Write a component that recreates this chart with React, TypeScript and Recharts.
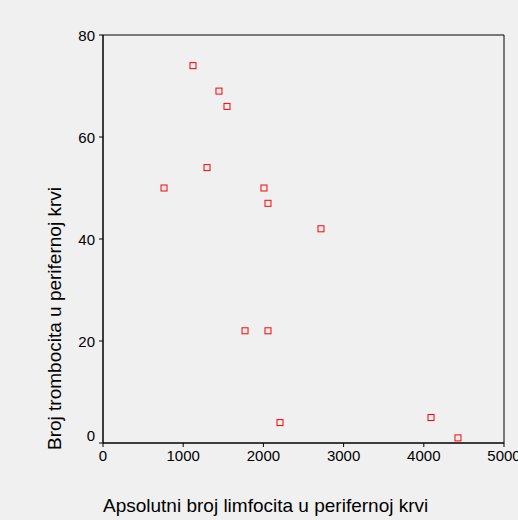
import React from 'react';
import {
  ScatterChart,
  Scatter,
  XAxis,
  YAxis,
  ReferenceArea,
} from 'recharts';

// Absolute lymphocyte count vs. platelet count
const lymphocytes = [1122, 1446, 1546, 1297, 761, 2007, 2057, 2718, 1771, 2057, 2207, 4090, 4426];
const platelets = [74, 69, 66, 54, 50, 50, 47, 42, 22, 22, 4, 5, 1];
const xTicks = [0, 1000, 2000, 3000, 4000, 5000];
const yTicks = [0, 20, 40, 60, 80];

const points = lymphocytes.map((x, i) => ({ x, y: platelets[i] }));

const FONT = '"Liberation Sans", Arial, Helvetica, sans-serif';

function Square(props: any) {
  const { cx, cy } = props;
  if (cx == null || cy == null) return null;
  return <rect x={cx - 3} y={cy - 3} width={6} height={6} fill="none" stroke="#ff0000" strokeWidth={1} />;
}

function YTick(props: any) {
  const { x, y, payload } = props;
  const dy = payload.value === 0 ? -2 : 6;
  return (
    <text x={x - 2} y={y + dy} textAnchor="end" fontSize={15} fontFamily={FONT} fill="#000">
      {payload.value}
    </text>
  );
}

function XTick(props: any) {
  const { x, y, payload } = props;
  return (
    <text x={x} y={y + 12} textAnchor="middle" fontSize={15} fontFamily={FONT} fill="#000">
      {payload.value}
    </text>
  );
}

function XLabel(props: any) {
  const { viewBox } = props;
  return (
    <text x={viewBox.x} y={viewBox.y + 69} fontSize={19} fontFamily={FONT} fill="#000">
      Apsolutni broj limfocita u perifernoj krvi
    </text>
  );
}

function YLabel(props: any) {
  const { viewBox } = props;
  const x = viewBox.x + 61;
  const y = viewBox.y + viewBox.height + 7;
  return (
    <text x={x} y={y} transform={`rotate(-90 ${x} ${y})`} fontSize={19} fontFamily={FONT} fill="#000">
      Broj trombocita u perifernoj krvi
    </text>
  );
}

export default function App() {
  return (
    <div
      style={{
        position: 'fixed',
        left: 0,
        top: 0,
        width: 518,
        height: 520,
        background: '#f0f0f0',
        overflow: 'hidden',
      }}
    >
      <ScatterChart width={518} height={520} margin={{ top: 35, right: 14, bottom: 0, left: 0 }}>
        <XAxis
          type="number"
          dataKey="x"
          domain={[0, 5000]}
          ticks={xTicks}
          interval={0}
          stroke="#000"
          tickSize={4}
          tick={<XTick />}
          height={77}
          label={<XLabel />}
        />
        <YAxis
          type="number"
          dataKey="y"
          domain={[0, 80]}
          ticks={yTicks}
          interval={0}
          stroke="#000"
          tickSize={4}
          tick={<YTick />}
          width={103}
          label={<YLabel />}
        />
        <ReferenceArea x1={0} x2={5000} y1={0} y2={80} fill="none" stroke="#000" strokeWidth={1} />
        <Scatter data={points} shape={<Square />} isAnimationActive={false} />
      </ScatterChart>
    </div>
  );
}
